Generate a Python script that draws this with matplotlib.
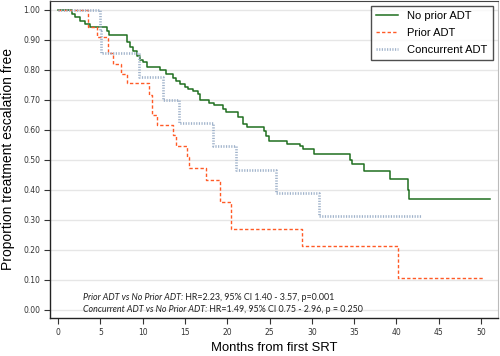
import matplotlib.pyplot as plt
import numpy as np

## data
# no prior ADT
no_prior_t = [0, 1.6, 2.0, 2.6, 3.2, 3.8, 5.75, 6.0, 8.1, 8.5, 8.9, 9.3, 9.7, 10.1, 10.5,
              12.06, 12.8, 13.6, 14.0, 14.4, 15.0, 15.4, 16.0, 16.6, 16.8, 17.8, 18.4,
              19.5, 19.9, 21.3, 21.9, 22.3, 24.3, 24.6, 24.9, 27.1, 28.6, 29.0, 30.2,
              34.5, 34.7, 36.2, 39.2, 41.4, 41.5, 51.1]
no_prior_s = [1.0, 0.985, 0.976, 0.963, 0.952, 0.941, 0.928, 0.916, 0.891, 0.875, 0.864,
              0.847, 0.833, 0.825, 0.81, 0.80, 0.786, 0.773, 0.764, 0.753, 0.744, 0.737,
              0.729, 0.72, 0.698, 0.689, 0.681, 0.67, 0.659, 0.642, 0.62, 0.609, 0.595,
              0.58, 0.5625, 0.554, 0.545, 0.537, 0.518, 0.50, 0.487, 0.463, 0.437, 0.40,
              0.37, 0.37]

# prior ADT
prior_t = [0, 3.6, 4.57, 5.95, 6.54, 7.45, 8.1, 10.7, 11.1, 11.7, 13.6, 13.9, 15.3, 15.5,
           17.5, 19.1, 20.5, 28.8, 40.2, 50.2]
prior_s = [1.0, 0.941, 0.91, 0.857, 0.82, 0.786, 0.755, 0.717, 0.65, 0.617, 0.581, 0.546,
           0.51, 0.471, 0.434, 0.358, 0.268, 0.214, 0.107, 0.107]

# concurrent ADT
conc_t = [0, 5.0, 5.1, 9.6, 12.45, 14.3, 18.3, 21.0, 25.8, 30.85, 43.0]
conc_s = [1.0, 0.929, 0.857, 0.777, 0.70, 0.622, 0.545, 0.467, 0.39, 0.312, 0.312]

series = ['No prior ADT', 'Prior ADT', 'Concurrent ADT']
notes = [('Prior ADT vs No Prior ADT:', ' HR=2.23, 95% CI 1.40 - 3.57, p=0.001'),
         ('Concurrent ADT vs No Prior ADT:', ' HR=1.49, 95% CI 0.75 - 2.96, p = 0.250')]

x_ticks = np.arange(0, 51, 5)
y_ticks = np.arange(0, 1.01, 0.1)

## plot!
fig = plt.figure(figsize=(5, 3.56), dpi=100)
ax = fig.add_axes([0.1, 0.107, 0.896, 0.891])

ax.step(no_prior_t, no_prior_s, where='post', color='#1f6f1f', lw=1.1, label=series[0])
ax.step(prior_t, prior_s, where='post', color='#ff5a26', lw=1.0,
        linestyle=(0, (2.4, 1.6)), label=series[1])
ax.step(conc_t, conc_s, where='post', color='#9fb2ca', lw=1.9,
        linestyle=(0, (0.45, 0.55)), label=series[2])

## pretty~
ax.set_xlim(-0.95, 52.0)
ax.set_ylim(-0.027, 1.03)
ax.set_xticks(x_ticks)
ax.set_yticks(y_ticks)
ax.set_yticklabels(['%.2f' % v for v in y_ticks])
ax.tick_params(labelsize=5.5, length=4, width=0.8, colors='#333333', pad=3)
ax.grid(axis='y', color='#e6e6e6', lw=1.0)
ax.set_axisbelow(True)

for side in ['left', 'bottom']:
    ax.spines[side].set_color('#222222')
    ax.spines[side].set_linewidth(1.0)
ax.spines['top'].set_color('#444444')
ax.spines['right'].set_color('#bbbbbb')

ax.set_xlabel('Months from first SRT', fontsize=9.4, family='Liberation Sans', labelpad=4)
ax.set_ylabel('Proportion treatment escalation free', fontsize=10,
              family='Liberation Sans', labelpad=6)

leg = ax.legend(loc='upper right', frameon=True, fancybox=False,
                edgecolor='#222222', borderaxespad=0.45, handlelength=2.0,
                handletextpad=0.8, labelspacing=0.6, borderpad=0.5,
                prop={'family': 'Liberation Sans', 'size': 8.0})
leg.get_frame().set_linewidth(1.0)

for i, (a, b) in enumerate(notes):
    ty = 0.033 - i * 0.04
    t = ax.text(2.95, ty, a, fontsize=6.4, family='Lato', style='italic', color='#222222')
    fig.canvas.draw()
    bb = t.get_window_extent().transformed(ax.transData.inverted())
    ax.text(bb.x1, ty, b, fontsize=6.4, family='Lato', color='#222222')

plt.savefig('out.png', dpi=100)
